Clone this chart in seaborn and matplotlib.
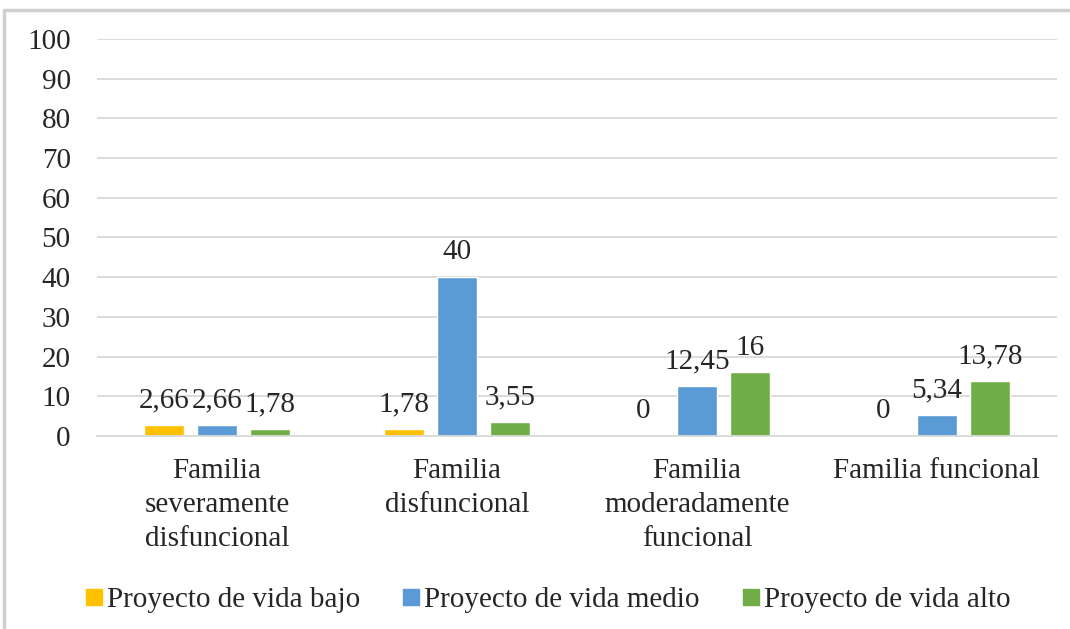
import numpy as np
import pandas as pd
import matplotlib
matplotlib.use("Agg")
import matplotlib.pyplot as plt
import seaborn as sns
from matplotlib.lines import Line2D

# Data
categorias = ["Familia\nseveramente\ndisfuncional", "Familia\ndisfuncional",
              "Familia\nmoderadamente\nfuncional", "Familia funcional"]
series = ["Proyecto de vida bajo", "Proyecto de vida medio", "Proyecto de vida alto"]
bajo = [2.66, 1.78, 0, 0]
medio = [2.66, 40, 12.45, 5.34]
alto = [1.78, 3.55, 16, 13.78]
colores = ["#FFC000", "#5B9BD5", "#70AD47"]

df = pd.DataFrame({
    "categoria": categorias * 3,
    "serie": [series[0]] * 4 + [series[1]] * 4 + [series[2]] * 4,
    "valor": bajo + medio + alto,
})

sns.set_style("white")
plt.rcParams["font.family"] = ["Liberation Serif", "DejaVu Serif"]
FS = 21

fig = plt.figure(figsize=(10.7, 6.29), dpi=100)
ax = fig.add_axes([0.0907, 0.307, 0.897, 0.631])

sns.barplot(data=df, x="categoria", y="valor", hue="serie", order=categorias,
            hue_order=series, palette=colores, width=0.667, gap=0.25,
            saturation=1, ax=ax, legend=False)

ax.set_ylim(0, 100)
ax.set_yticks(np.arange(0, 101, 10))
ax.yaxis.grid(True, color="#D9D9D9", linewidth=1.3)
ax.set_axisbelow(True)
for s in ["top", "right", "left"]:
    ax.spines[s].set_visible(False)
ax.spines["bottom"].set_color("#D9D9D9")
ax.spines["bottom"].set_linewidth(1.3)
ax.tick_params(axis="both", length=0, labelsize=FS)
ax.tick_params(axis="x", pad=16)
ax.tick_params(axis="y", pad=19)
for lab in ax.get_xticklabels():
    lab.set_linespacing(1.4)
ax.set_xlabel("")
ax.set_ylabel("")
ax.set_xlim(-0.5, 3.5)

for cont in ax.containers:
    labs = [f"{v:g}".replace(".", ",") for v in cont.datavalues]
    ax.bar_label(cont, labels=labs, padding=8.5, fontsize=FS)

handles = [Line2D([0], [0], marker="s", linestyle="", markersize=11,
                  markerfacecolor=c, markeredgecolor=c) for c in colores]
fig.legend(handles, series, loc="center", bbox_to_anchor=(0.51, 0.046), ncol=3,
           frameon=False, fontsize=FS, handletextpad=0.0, columnspacing=1.3,
           handlelength=0.9)

# chart frame
fig.add_artist(Line2D([0.0037, 0.0037], [0, 0.984], color="#D0D0D0", linewidth=2.5,
                      transform=fig.transFigure))
fig.add_artist(Line2D([0.0037, 1.0], [0.984, 0.984], color="#D0D0D0", linewidth=2.5,
                      transform=fig.transFigure))

fig.savefig("out.png", dpi=100)
